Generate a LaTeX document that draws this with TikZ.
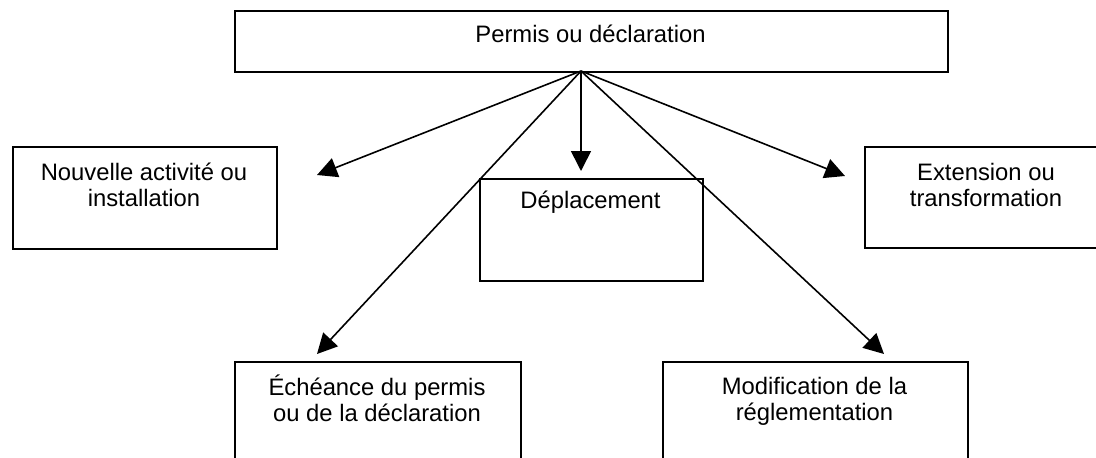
\documentclass[tikz,border=0pt]{standalone}
\usepackage{fontspec}
\setmainfont{Liberation Sans}
\usetikzlibrary{arrows.meta}
\begin{document}
\begin{tikzpicture}[x=1pt,y=-1pt,
  box/.style={draw, line width=1.7pt, inner sep=0pt, anchor=north west},
  lbl/.style={anchor=base, inner sep=0pt, font=\fontsize{23.8}{26}\selectfont},
  conn/.style={line width=1.6pt, -{Triangle[length=20pt,width=20pt]}}]
\useasboundingbox (0,0) rectangle (1096,458);
\clip (0,0) rectangle (1096,458);
% boxes
\node[box, minimum width=713pt, minimum height=61pt] (top) at (234,10) {};
\node[box, minimum width=264pt, minimum height=102pt] (nouv) at (12,146) {};
\node[box, minimum width=223pt, minimum height=102pt] (depl) at (479,178) {};
\node[box, minimum width=244pt, minimum height=101pt] (ext) at (864,146) {};
\node[box, minimum width=286pt, minimum height=130pt] (ech) at (234,361) {};
\node[box, minimum width=305pt, minimum height=130pt] (modif) at (662,361) {};
% labels
\node[lbl] (ttop) at (590.5,42) {Permis ou déclaration};
\node[lbl] (tnouv) at (144,180) {\begin{tabular}[t]{@{}c@{}}Nouvelle activité ou\\installation\end{tabular}};
\node[lbl] (tdepl) at (590.5,208) {Déplacement};
\node[lbl] (text) at (986,180) {\begin{tabular}[t]{@{}c@{}}Extension ou\\transformation\end{tabular}};
\node[lbl] (tech) at (377,395) {\begin{tabular}[t]{@{}c@{}}Échéance du permis\\ou de la déclaration\end{tabular}};
\node[lbl] (tmodif) at (814.5,394) {\begin{tabular}[t]{@{}c@{}}Modification de la\\réglementation\end{tabular}};
% connector ends
\coordinate (o) at (581,71);
\coordinate (tn) at (317,175);
\coordinate (td) at (581,171);
\coordinate (te) at (845,176);
\coordinate (tc) at (317,354);
\coordinate (tm) at (884,354);
\draw[conn] (o) -- (tn);
\draw[conn] (o) -- (td);
\draw[conn] (o) -- (te);
\draw[conn] (o) -- (tc);
\draw[conn] (o) -- (tm);
\end{tikzpicture}
\end{document}
